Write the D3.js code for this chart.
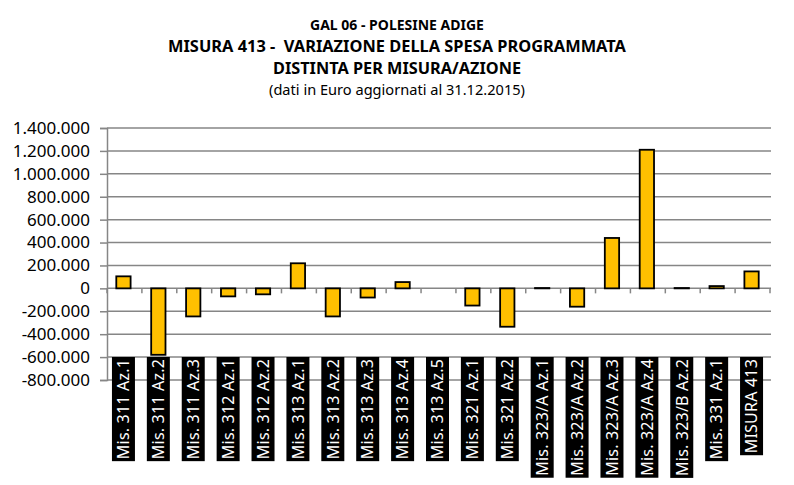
<!DOCTYPE html>
<html>
<head>
<meta charset="utf-8">
<script src="https://cdn.jsdelivr.net/npm/d3@7"></script>
<style>
  body { margin: 0; background: #fff; }
  svg { font-family: "Noto Sans", sans-serif; }
</style>
</head>
<body>
<div id="chart"></div>
<script>
// data
const categories = [
  'Mis. 311 Az.1', 'Mis. 311 Az.2', 'Mis. 311 Az.3', 'Mis. 312 Az.1', 'Mis. 312 Az.2',
  'Mis. 313 Az.1', 'Mis. 313 Az.2', 'Mis. 313 Az.3', 'Mis. 313 Az.4', 'Mis. 313 Az.5',
  'Mis. 321 Az.1', 'Mis. 321 Az.2', 'Mis. 323/A Az.1', 'Mis. 323/A Az.2', 'Mis. 323/A Az.3',
  'Mis. 323/A Az.4', 'Mis. 323/B Az.2', 'Mis. 331 Az.1', 'MISURA 413'
];
const variazione = [
  105000, -580000, -245000, -70000, -52000,
  219000, -245000, -80000, 55000, 0,
  -150000, -335000, 3000, -160000, 440000,
  1210000, 3000, 20000, 148000
];
const yTicks = [-800000, -600000, -400000, -200000, 0, 200000, 400000, 600000, 800000, 1000000, 1200000, 1400000];
const titleLines = [
  'GAL 06 - POLESINE ADIGE',
  'MISURA 413 -  VARIAZIONE DELLA SPESA PROGRAMMATA',
  'DISTINTA PER MISURA/AZIONE',
  '(dati in Euro aggiornati al 31.12.2015)'
];

const W = 794, H = 485;
const plotL = 107, plotR = 770, plotT = 128, plotB = 380;

const svg = d3.select('#chart').append('svg')
  .attr('width', W).attr('height', H);

const it = d3.formatLocale({ decimal: ',', thousands: '.', grouping: [3], currency: ['€', ''], minus: '-' });
const fmt = it.format(',d');

const x = d3.scaleBand().domain(categories).range([plotL, plotR]).padding(0);
const y = d3.scaleLinear().domain([-800000, 1400000]).range([plotB, plotT]);

// gridlines + left axis
const yAxis = svg.append('g')
  .attr('transform', `translate(${plotL},0)`)
  .call(d3.axisLeft(y).tickValues(yTicks).tickFormat(fmt).tickSize(7).tickPadding(10));
yAxis.select('.domain').attr('stroke', '#868686').attr('stroke-width', 1.5);
yAxis.selectAll('.tick line').attr('stroke', '#868686').attr('stroke-width', 1.5);
yAxis.selectAll('.tick text')
  .attr('font-size', 17).attr('fill', '#000')
  .attr('font-family', '"Noto Sans", sans-serif');

svg.append('g').selectAll('line').data(yTicks).join('line')
  .attr('x1', plotL).attr('x2', plotR + 1)
  .attr('y1', d => y(d)).attr('y2', d => y(d))
  .attr('stroke', '#868686').attr('stroke-width', 1.5);

// category ticks on the zero line
const bounds = categories.map(c => x(c)).concat([plotR]);
svg.append('g').selectAll('line').data(bounds).join('line')
  .attr('x1', d => d).attr('x2', d => d)
  .attr('y1', y(0)).attr('y2', y(0) + 5)
  .attr('stroke', '#868686').attr('stroke-width', 1.5);

// bars
const bw = x.bandwidth() * 0.41;
svg.append('g').selectAll('rect').data(variazione).join('rect')
  .attr('x', (d, i) => x(categories[i]) + x.bandwidth() / 2 - bw / 2 - 1)
  .attr('width', bw)
  .attr('y', d => y(Math.max(0, d)))
  .attr('height', d => Math.abs(y(d) - y(0)))
  .attr('fill', '#FFC000')
  .attr('stroke', '#000').attr('stroke-width', 1.8);

// category labels: white text in black boxes, reading upwards
const labTop = 357, boxW = 23, pad = 2;
const lab = svg.append('g').selectAll('g').data(categories).join('g')
  .attr('transform', d => `translate(${x(d) + x.bandwidth() / 2 - 1},${labTop}) rotate(-90)`);
lab.append('rect');
lab.append('text')
  .attr('x', -pad).attr('y', 0).attr('dy', '0.36em')
  .attr('text-anchor', 'end')
  .attr('font-size', 16).attr('fill', '#fff')
  .attr('letter-spacing', 0.2)
  .text(d => d);
lab.each(function () {
  const g = d3.select(this);
  const len = g.select('text').node().getComputedTextLength();
  g.select('rect')
    .attr('x', -(len + 2 * pad)).attr('y', -boxW / 2)
    .attr('width', len + 2 * pad).attr('height', boxW)
    .attr('fill', '#000');
});

// titles
const tSizes = [14, 16.4, 16.3, 14.6];
const tBase = [30, 52, 74, 95];
const tWeight = ['bold', 'bold', 'bold', 'normal'];
svg.append('g').selectAll('text').data(titleLines).join('text')
  .attr('x', 397).attr('y', (d, i) => tBase[i])
  .attr('text-anchor', 'middle')
  .attr('font-size', (d, i) => tSizes[i])
  .attr('font-weight', (d, i) => tWeight[i])
  .attr('fill', '#000')
  .style('white-space', 'pre')
  .text(d => d);
</script>
</body>
</html>
